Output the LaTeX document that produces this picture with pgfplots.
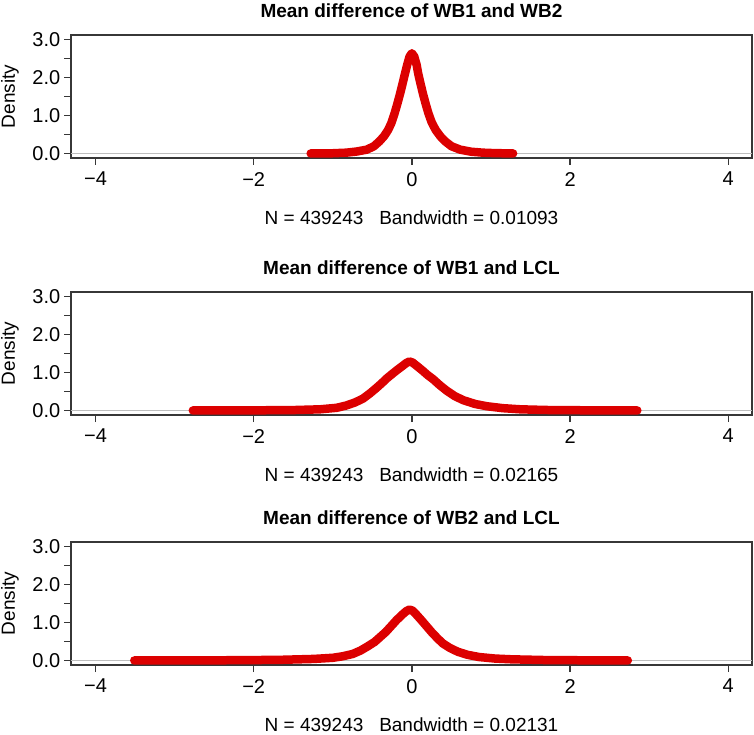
\documentclass[border=0pt]{standalone}
\usepackage{fontspec}
\setmainfont{Liberation Sans}
\usepackage{pgfplots}
\pgfplotsset{compat=1.18}
\definecolor{kred}{RGB}{220,0,0}
\definecolor{axgray}{RGB}{55,55,55}
\definecolor{zgray}{RGB}{190,190,190}
\newcommand{\fs}{\fontsize{19}{22}\selectfont}
\newcommand{\fst}{\fontsize{20}{23}\selectfont}
\pgfplotsset{dens/.style={
  scale only axis, width=681pt, height=123pt,
  xmin=-4.31, xmax=4.30, ymin=-0.12, ymax=3.12,
  axis line style={axgray, line width=1.2pt},
  every tick/.style={axgray, line width=1.2pt},
  tick align=outside, major tick length=7pt,
  tick pos=left,
  xtick={-4,-2,0,2,4}, xticklabels={−4,−2,0,2,4},
  ytick={0,0.5,1,1.5,2,2.5,3}, yticklabels={0.0,,1.0,,2.0,,3.0},
  ticklabel style={font=\fst},
  xticklabel style={anchor=north, inner sep=0pt, yshift=-7pt},
  yticklabel style={anchor=east, inner sep=0pt, xshift=-3.5pt},
  ylabel={Density},
  ylabel style={at={(axis description cs:0,0.5)}, anchor=center, yshift=61pt, font=\fs},
  title style={at={(axis description cs:0.5,1)}, anchor=center, yshift=18.5pt, font=\fs\bfseries},
  xlabel style={at={(axis description cs:0.5,0)}, anchor=center, yshift=-60pt, font=\fs},
}}
\begin{document}
\begin{tikzpicture}
\path[use as bounding box] (0,0) rectangle (754pt,-735pt);
% Panel 1
\begin{axis}[dens, at={(71pt,-35pt)}, anchor=north west,
  title={Mean difference of WB1 and WB2},
  xlabel={N = 439243\ \ \ Bandwidth = 0.01093}]
\addplot[zgray, line width=1.2pt] coordinates {(-4.31,0) (4.30,0)};
\addplot[kred, line width=8.5pt, line cap=round, line join=round] coordinates {
(-1.28,0.0) (-1.0,0.005) (-0.83,0.02) (-0.70,0.05) (-0.57,0.10) (-0.48,0.19)
(-0.41,0.32) (-0.35,0.46) (-0.30,0.62) (-0.26,0.80) (-0.22,1.05) (-0.185,1.30)
(-0.15,1.57) (-0.12,1.82) (-0.09,2.08) (-0.06,2.33) (-0.03,2.55) (0,2.64)
(0.03,2.55) (0.06,2.33) (0.08,2.10) (0.11,1.83) (0.14,1.57) (0.175,1.30)
(0.21,1.05) (0.25,0.82) (0.30,0.62) (0.36,0.45) (0.42,0.32) (0.50,0.19)
(0.61,0.10) (0.75,0.045) (0.90,0.02) (1.05,0.008) (1.28,0.0)};
\end{axis}
% Panel 2
\begin{axis}[dens, at={(71pt,-292pt)}, anchor=north west,
  title={Mean difference of WB1 and LCL},
  xlabel={N = 439243\ \ \ Bandwidth = 0.02165}]
\addplot[zgray, line width=1.2pt] coordinates {(-4.31,0) (4.30,0)};
\addplot[kred, line width=8.5pt, line cap=round, line join=round] coordinates {
(-2.77,0.0) (-2.0,0.003) (-1.5,0.01) (-1.16,0.03) (-0.95,0.07) (-0.83,0.13)
(-0.72,0.21) (-0.62,0.31) (-0.53,0.45) (-0.45,0.59) (-0.38,0.72) (-0.32,0.84)
(-0.25,0.96) (-0.19,1.06) (-0.12,1.17) (-0.07,1.25) (-0.03,1.29) (0.01,1.26)
(0.07,1.16) (0.14,1.04) (0.20,0.93) (0.27,0.82) (0.35,0.67) (0.44,0.52)
(0.54,0.38) (0.65,0.27) (0.80,0.17) (0.95,0.11) (1.15,0.06) (1.37,0.03)
(1.7,0.012) (2.2,0.004) (2.85,0.0)};
\end{axis}
% Panel 3
\begin{axis}[dens, at={(71pt,-542pt)}, anchor=north west,
  title={Mean difference of WB2 and LCL},
  xlabel={N = 439243\ \ \ Bandwidth = 0.02131}]
\addplot[zgray, line width=1.2pt] coordinates {(-4.31,0) (4.30,0)};
\addplot[kred, line width=8.5pt, line cap=round, line join=round] coordinates {
(-3.51,0.0) (-2.5,0.003) (-1.69,0.015) (-1.24,0.04) (-1.0,0.07) (-0.875,0.11)
(-0.75,0.17) (-0.65,0.26) (-0.56,0.37) (-0.47,0.49) (-0.40,0.62) (-0.33,0.75)
(-0.26,0.91) (-0.195,1.06) (-0.12,1.21) (-0.07,1.30) (-0.03,1.34) (0.01,1.31)
(0.06,1.20) (0.12,1.06) (0.19,0.89) (0.26,0.72) (0.33,0.57) (0.39,0.45)
(0.48,0.33) (0.58,0.23) (0.70,0.15) (0.85,0.09) (1.05,0.05) (1.26,0.03)
(1.7,0.01) (2.2,0.004) (2.73,0.0)};
\end{axis}
\end{tikzpicture}
\end{document}
